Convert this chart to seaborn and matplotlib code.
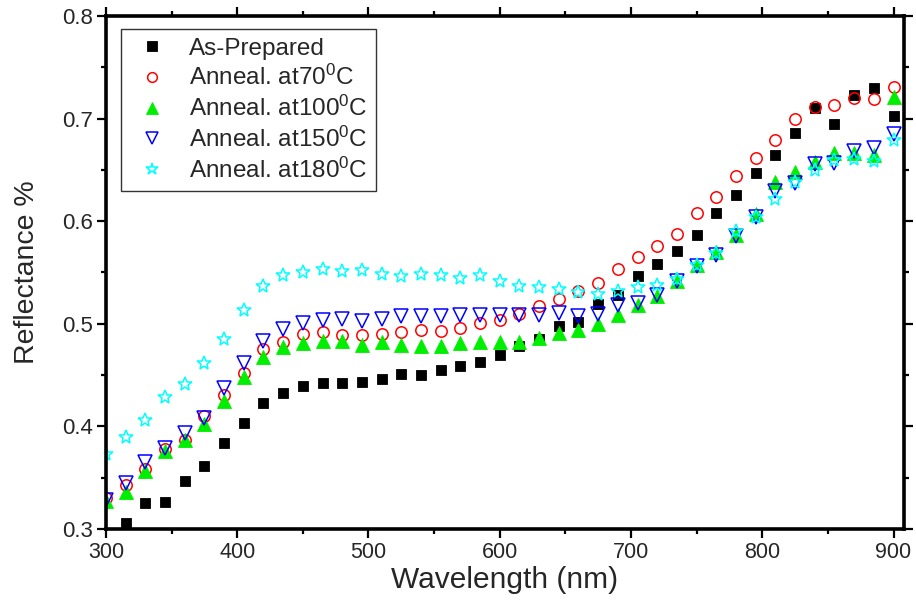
import matplotlib
matplotlib.use("Agg")
import matplotlib.pyplot as plt
from matplotlib.ticker import MultipleLocator
import seaborn as sns

# Wavelength grid (nm), sampled every 15 nm
wavelength = list(range(300, 901, 15))
wavelength_ap = wavelength[1:]  # as-prepared series starts at 315 nm

as_prepared = [0.306, 0.325, 0.326, 0.347, 0.361, 0.384, 0.403, 0.423, 0.433, 0.439,
               0.442, 0.442, 0.443, 0.446, 0.451, 0.450, 0.455, 0.459, 0.463, 0.470,
               0.478, 0.485, 0.498, 0.502, 0.519, 0.528, 0.547, 0.558, 0.571, 0.587,
               0.608, 0.626, 0.647, 0.665, 0.686, 0.710, 0.695, 0.723, 0.730, 0.703]

anneal_70 = [0.330, 0.343, 0.358, 0.378, 0.387, 0.410, 0.431, 0.452, 0.475, 0.482, 0.490,
             0.492, 0.489, 0.489, 0.490, 0.492, 0.494, 0.493, 0.496, 0.501, 0.504,
             0.510, 0.517, 0.524, 0.532, 0.540, 0.553, 0.565, 0.576, 0.588,
             0.608, 0.624, 0.644, 0.662, 0.679, 0.700, 0.711, 0.713, 0.720, 0.719, 0.731]

anneal_100 = [0.327, 0.336, 0.357, 0.376, 0.387, 0.402, 0.425, 0.448, 0.468, 0.477, 0.481,
              0.483, 0.483, 0.479, 0.482, 0.479, 0.478, 0.478, 0.481, 0.482, 0.482,
              0.482, 0.486, 0.491, 0.494, 0.500, 0.509, 0.518, 0.527, 0.542,
              0.557, 0.570, 0.587, 0.607, 0.638, 0.648, 0.658, 0.666, 0.666, 0.665, 0.721]

anneal_150 = [0.328, 0.345, 0.365, 0.379, 0.394, 0.408, 0.437, 0.462, 0.483, 0.495, 0.501,
              0.504, 0.505, 0.503, 0.505, 0.508, 0.508, 0.508, 0.509, 0.509, 0.509,
              0.509, 0.509, 0.511, 0.508, 0.510, 0.518, 0.520, 0.528, 0.542,
              0.556, 0.567, 0.586, 0.604, 0.629, 0.637, 0.656, 0.657, 0.668, 0.671, 0.685]

anneal_180 = [0.373, 0.390, 0.406, 0.429, 0.441, 0.462, 0.485, 0.513, 0.537, 0.548, 0.550,
              0.553, 0.551, 0.552, 0.549, 0.547, 0.549, 0.548, 0.545, 0.548, 0.542,
              0.537, 0.536, 0.534, 0.531, 0.529, 0.532, 0.536, 0.538, 0.544,
              0.557, 0.569, 0.590, 0.604, 0.622, 0.638, 0.650, 0.660, 0.661, 0.659, 0.679]

labels = ["As-Prepared",
          r"Anneal. at70$^\mathregular{0}$C",
          r"Anneal. at100$^\mathregular{0}$C",
          r"Anneal. at150$^\mathregular{0}$C",
          r"Anneal. at180$^\mathregular{0}$C"]

sns.set_theme(style="ticks")
plt.rcParams.update({
    "font.family": ["Liberation Sans", "DejaVu Sans"],
    "mathtext.fontset": "custom",
    "mathtext.rm": "Liberation Sans",
    "mathtext.it": "Liberation Sans:italic",
    "mathtext.bf": "Liberation Sans:bold",
    "axes.edgecolor": "black",
    "axes.linewidth": 2.6,
    "axes.facecolor": "white",
    "figure.facecolor": "white",
})

fig = plt.figure(figsize=(9.16, 6.04), dpi=100)
ax = fig.add_axes([0.1157, 0.1242, 0.8712, 0.8493])

styles = [
    (wavelength_ap, as_prepared, labels[0], "s", "#000000", True, 7.8),
    (wavelength, anneal_70, labels[1], "o", "#ff0000", False, 8.2),
    (wavelength, anneal_100, labels[2], "^", "#00ee00", True, 9.6),
    (wavelength, anneal_150, labels[3], "v", "#0000ff", False, 9.6),
    (wavelength, anneal_180, labels[4], "*", "#00ffff", False, 10.5),
]

for x, y, lab, mk, col, filled, ms in styles:
    sns.lineplot(x=x, y=y, ax=ax, marker=mk, linestyle="", markersize=ms,
                 markerfacecolor=col if filled else "none",
                 markeredgecolor=col, markeredgewidth=0.6 if filled else 1.1,
                 color=col, label=lab, clip_on=True)

ax.set_xlim(300, 908)
ax.set_ylim(0.3, 0.8)
ax.xaxis.set_major_locator(MultipleLocator(100))
ax.xaxis.set_minor_locator(MultipleLocator(50))
ax.yaxis.set_major_locator(MultipleLocator(0.1))
ax.yaxis.set_minor_locator(MultipleLocator(0.05))
ax.yaxis.set_major_formatter(plt.FuncFormatter(lambda v, p: f"{v:.1f}"))

ax.tick_params(which="both", direction="out", top=True, right=True,
               width=1.6, color="black")
ax.tick_params(which="major", length=6.5, pad=3)
ax.tick_params(which="minor", length=3.8)
ax.tick_params(axis="x", which="major", labelsize=15.5)
ax.tick_params(axis="y", which="major", labelsize=16)

for s in ax.spines.values():
    s.set_visible(True)
    s.set_linewidth(2.6)
    s.set_color("black")

ax.set_xlabel("Wavelength (nm)", fontsize=21.5, labelpad=2)
ax.set_ylabel("Reflectance %", fontsize=20.5, labelpad=16)

leg = ax.legend(loc="upper left", bbox_to_anchor=(0.0184, 0.9747),
                borderaxespad=0, frameon=True, fancybox=False, framealpha=1,
                edgecolor="#333333", fontsize=17.5, handlelength=1.85,
                handletextpad=0.6, labelspacing=0.23, borderpad=0.35,
                markerscale=0.85)
leg.get_frame().set_linewidth(1.0)

fig.savefig("out.png", dpi=100)
